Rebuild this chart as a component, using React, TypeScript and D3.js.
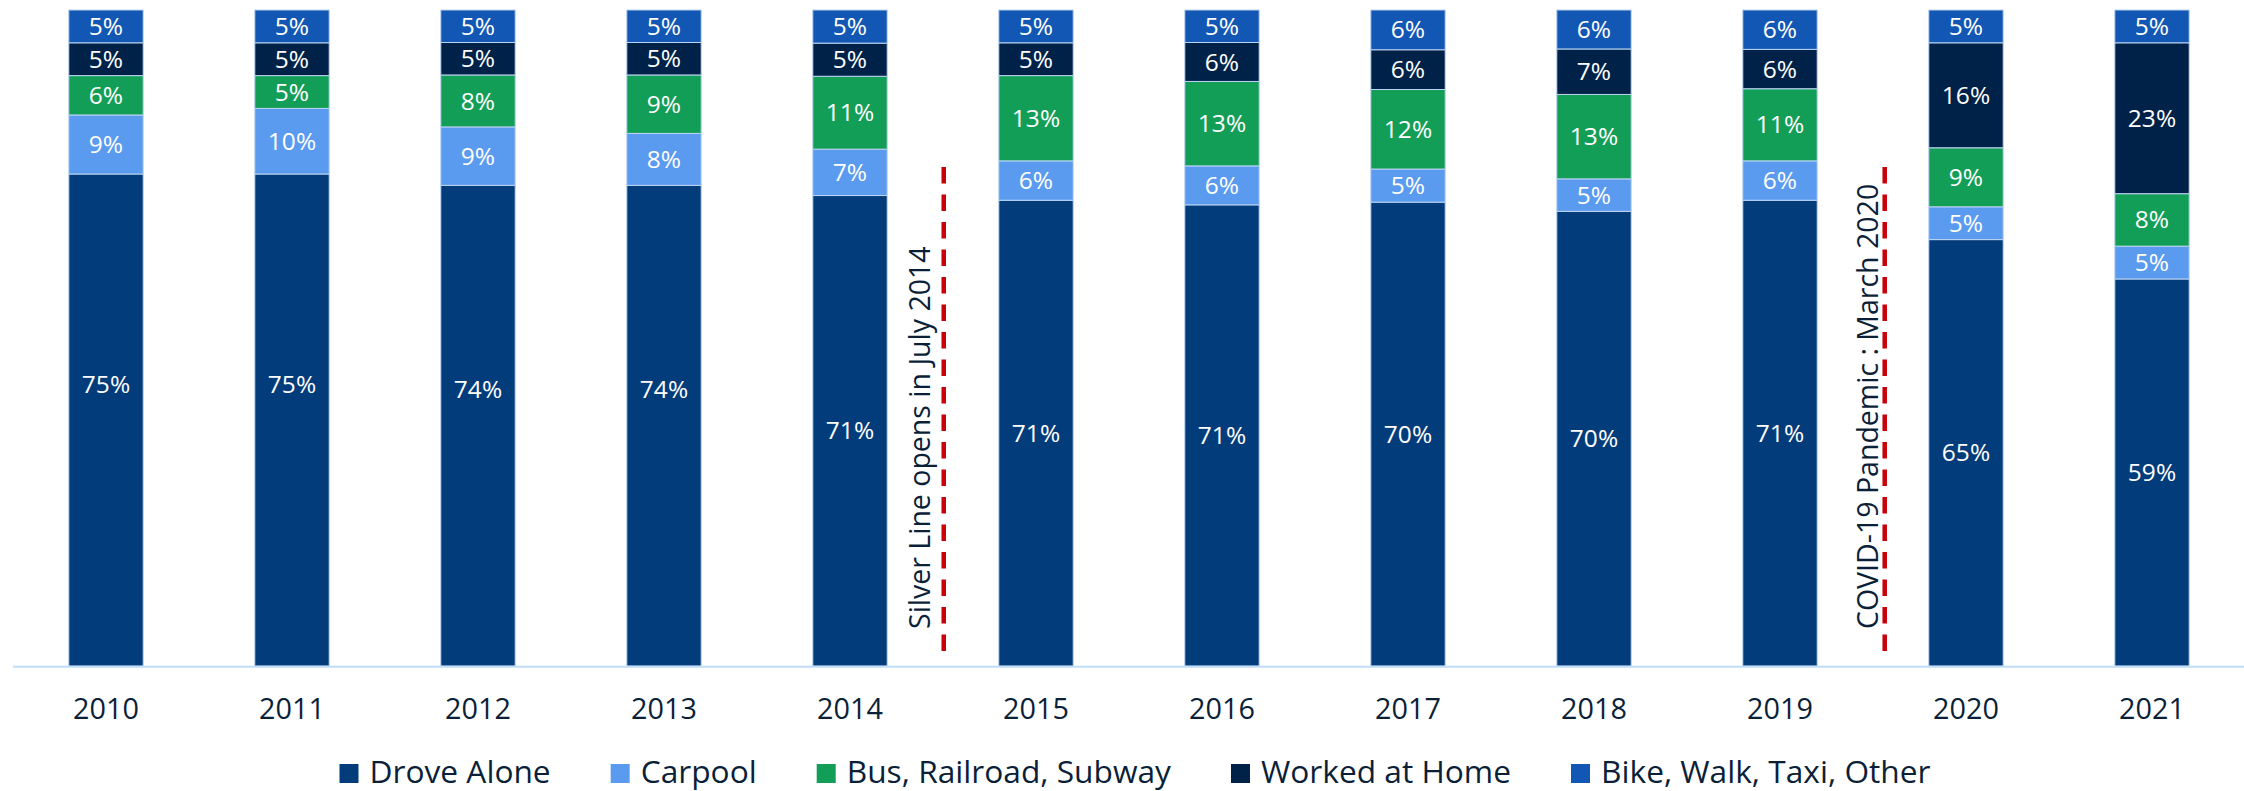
import React, { useEffect, useRef } from 'react';
import * as d3 from 'd3';

const years = ['2010', '2011', '2012', '2013', '2014', '2015', '2016', '2017', '2018', '2019', '2020', '2021'];
const droveAlone = [75, 75, 74, 74, 71, 71, 71, 70, 70, 71, 65, 59];
const carpool = [9, 10, 9, 8, 7, 6, 6, 5, 5, 6, 5, 5];
const busRailSubway = [6, 5, 8, 9, 11, 13, 13, 12, 13, 11, 9, 8];
const workedAtHome = [5, 5, 5, 5, 5, 5, 6, 6, 7, 6, 16, 23];
const bikeWalkTaxiOther = [5, 5, 5, 5, 5, 5, 5, 6, 6, 6, 5, 5];

const seriesNames = ['Drove Alone', 'Carpool', 'Bus, Railroad, Subway', 'Worked at Home', 'Bike, Walk, Taxi, Other'];
const seriesValues = [droveAlone, carpool, busRailSubway, workedAtHome, bikeWalkTaxiOther];
const seriesColors = ['#033c7b', '#5a9aef', '#139e57', '#002248', '#1257b4'];

const annotationLabels = ['Silver Line opens in July 2014', 'COVID-19 Pandemic : March 2020'];
const annotationAfterYear = ['2014', '2019'];
const annotationFraction = [0.504, 0.563];

const W = 2244;
const H = 791;
const FONT = '"Open Sans", "DejaVu Sans", sans-serif';
const TEXT_COLOR = '#0c1f38';

export default function App() {
  const ref = useRef<SVGSVGElement | null>(null);

  useEffect(() => {
    const svg = d3.select(ref.current);
    svg.selectAll('*').remove();

    const rows = years.map((y, i) => {
      const r: any = { year: y };
      seriesNames.forEach((n, k) => (r[n] = seriesValues[k][i]));
      return r;
    });

    const stacked = d3.stack<any>().keys(seriesNames).offset(d3.stackOffsetExpand)(rows);

    const x = d3.scaleBand<string>().domain(years).range([13, 2245]).paddingInner(0.6).paddingOuter(0.3);
    const y = d3.scaleLinear().domain([0, 1]).range([666, 10]);
    const color = d3.scaleOrdinal<string, string>().domain(seriesNames).range(seriesColors);

    const g = svg.append('g');

    const layers = g
      .selectAll('g.layer')
      .data(stacked)
      .join('g')
      .attr('class', 'layer')
      .attr('fill', (d) => color(d.key));

    layers
      .selectAll('rect')
      .data((d) => d.map((s) => ({ s, key: d.key })))
      .join('rect')
      .attr('x', (d) => x(d.s.data.year)!)
      .attr('width', x.bandwidth())
      .attr('y', (d) => y(d.s[1]))
      .attr('height', (d) => y(d.s[0]) - y(d.s[1]))
      .attr('stroke', '#bcd4f2')
      .attr('stroke-width', 1);

    // labels
    const labelShift: Record<string, number> = { '2010': -36, '2011': -36, '2012': -36, '2013': -36 };
    layers
      .selectAll('text')
      .data((d) => d.map((s) => ({ s, key: d.key })))
      .join('text')
      .attr('x', (d) => x(d.s.data.year)! + x.bandwidth() / 2)
      .attr('y', (d) => {
        const c = (y(d.s[0]) + y(d.s[1])) / 2;
        const shift = d.key === 'Drove Alone' ? labelShift[d.s.data.year] || 0 : 0;
        return c + shift;
      })
      .attr('dy', '0.35em')
      .attr('text-anchor', 'middle')
      .attr('fill', '#ffffff')
      .attr('font-family', FONT)
      .attr('font-size', 24.5)
      .text((d) => `${d.s.data[d.key]}%`);

    // axis line
    g.append('line')
      .attr('x1', 13)
      .attr('x2', W)
      .attr('y1', 666.7)
      .attr('y2', 666.7)
      .attr('stroke', '#bfdcf8')
      .attr('stroke-width', 2);

    // tick labels
    g.selectAll('text.tick')
      .data(years)
      .join('text')
      .attr('class', 'tick')
      .attr('x', (d) => x(d)! + x.bandwidth() / 2)
      .attr('y', 719)
      .attr('text-anchor', 'middle')
      .attr('fill', TEXT_COLOR)
      .attr('font-family', FONT)
      .attr('font-size', 28.8)
      .text((d) => d);

    // annotations
    const annDx = [-14, -7];
    annotationLabels.forEach((label, i) => {
      const yr = annotationAfterYear[i];
      const lx = x(yr)! + x.bandwidth() / 2 + annotationFraction[i] * x.step();
      g.append('line')
        .attr('x1', lx)
        .attr('x2', lx)
        .attr('y1', 167)
        .attr('y2', 660)
        .attr('stroke', '#c8000a')
        .attr('stroke-width', 4.5)
        .attr('stroke-dasharray', '16.5 11');
      g.append('text')
        .attr('transform', `translate(${lx + annDx[i]},629) rotate(-90)`)
        .attr('text-anchor', 'start')
        .attr('fill', TEXT_COLOR)
        .attr('font-family', FONT)
        .attr('font-size', 28.5)
        .text(label);
    });

    // legend
    const legend = g.append('g');
    const sq = 19;
    const gapText = 11;
    const gapItem = 60;
    const items = legend
      .selectAll('g.item')
      .data(seriesNames)
      .join('g')
      .attr('class', 'item');
    items
      .append('rect')
      .attr('width', sq)
      .attr('height', sq)
      .attr('y', 764)
      .attr('fill', (d) => color(d));
    const texts = items
      .append('text')
      .attr('y', 783)
      .attr('fill', TEXT_COLOR)
      .attr('font-family', FONT)
      .attr('font-size', 31.7)
      .text((d) => d);
    const widths: number[] = [];
    texts.each(function () {
      widths.push((this as SVGTextElement).getComputedTextLength());
    });
    const total = d3.sum(widths) + seriesNames.length * (sq + gapText) + (seriesNames.length - 1) * gapItem;
    let cx = 1135 - total / 2;
    items.each(function (_d, i) {
      d3.select(this).attr('transform', `translate(${cx},0)`);
      d3.select(this).select('text').attr('x', sq + gapText);
      cx += sq + gapText + widths[i] + gapItem;
    });
  }, []);

  return (
    <svg
      ref={ref}
      width={W}
      height={H}
      style={{ position: 'absolute', left: 0, top: 0, background: '#ffffff' }}
    />
  );
}
